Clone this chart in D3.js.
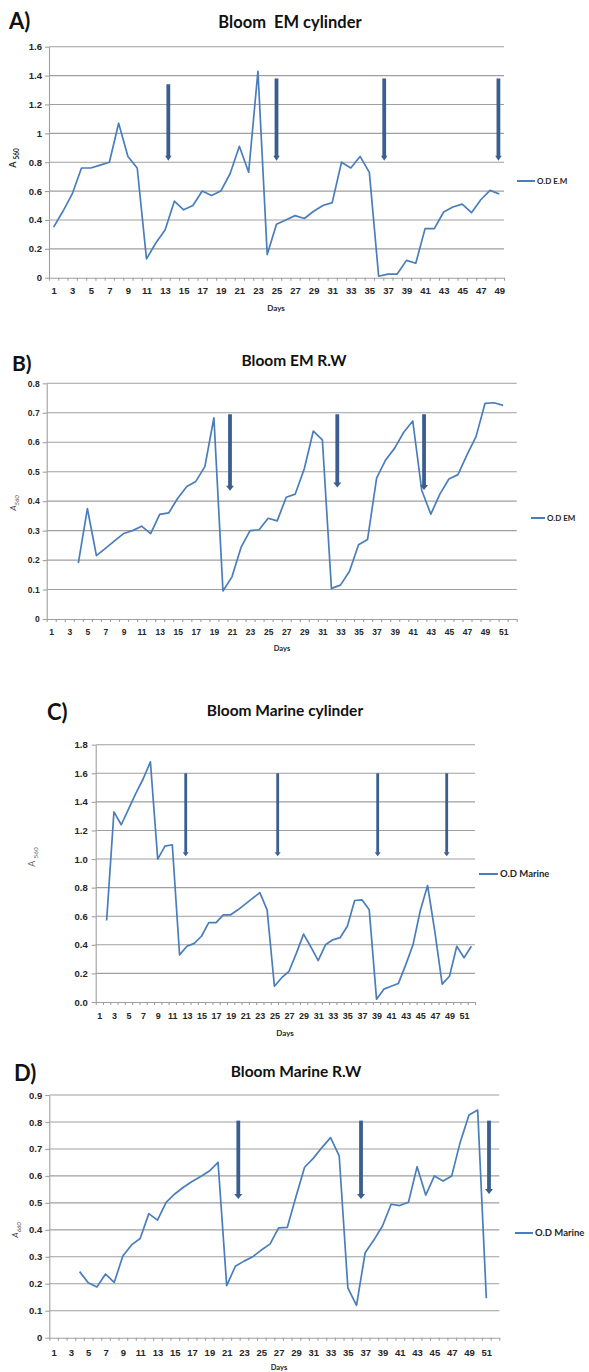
<!DOCTYPE html>
<html>
<head>
<meta charset="utf-8">
<script src="https://cdn.jsdelivr.net/npm/d3@7"></script>
<style>
  body { margin: 0; background: #fff; }
  svg { display: block; font-family: Lato, "Open Sans", sans-serif; }
</style>
</head>
<body>
<div id="chart"></div>
<script>
// ---- values ----
// A) Bloom EM cylinder, days 1..49
const daysA = d3.range(1, 50);
const odA = [0.35, 0.46, 0.58, 0.76, 0.76, 0.78, 0.80, 1.07, 0.84, 0.76,
             0.13, 0.24, 0.33, 0.53, 0.47, 0.50, 0.60, 0.57, 0.60, 0.72,
             0.91, 0.73, 1.43, 0.16, 0.37, 0.40, 0.43, 0.41, 0.46, 0.50,
             0.52, 0.80, 0.76, 0.84, 0.73, 0.01, 0.025, 0.025, 0.12, 0.10,
             0.34, 0.34, 0.455, 0.49, 0.51, 0.45, 0.54, 0.605, 0.58];
const arrowDaysA = [13.35, 25, 36.6, 48.9];
const arrowTopA = [1.34, 1.38, 1.38, 1.38];
const arrowEndA = [0.81, 0.81, 0.81, 0.81];

// B) Bloom EM R.W, days 4..51
const daysB = d3.range(4, 52);
const odB = [0.19, 0.375, 0.215, 0.24, 0.265, 0.29, 0.30, 0.315, 0.29, 0.355,
             0.36, 0.41, 0.45, 0.467, 0.517, 0.683, 0.095, 0.143, 0.243, 0.30,
             0.303, 0.342, 0.333, 0.413, 0.424, 0.51, 0.638, 0.608, 0.104, 0.115,
             0.162, 0.252, 0.27, 0.478, 0.54, 0.58, 0.634, 0.672, 0.436, 0.356,
             0.424, 0.475, 0.49, 0.557, 0.619, 0.732, 0.734, 0.725];
const arrowDaysB = [20.78, 32.65, 42.25];
const arrowTopB = [0.695, 0.695, 0.695];
const arrowEndB = [0.435, 0.446, 0.438];

// C) Bloom Marine cylinder, days 2..52
const daysC = d3.range(2, 53);
const odC = [0.57, 1.33, 1.24, 1.35, 1.46, 1.56, 1.68, 1.00, 1.09, 1.10,
             0.33, 0.39, 0.41, 0.46, 0.555, 0.555, 0.61, 0.61, 0.645, 0.685,
             0.725, 0.765, 0.645, 0.11, 0.17, 0.215, 0.34, 0.475, 0.385, 0.29,
             0.40, 0.435, 0.45, 0.53, 0.71, 0.715, 0.645, 0.02, 0.09, 0.11,
             0.13, 0.26, 0.40, 0.64, 0.815, 0.49, 0.125, 0.18, 0.39, 0.31, 0.39];
const arrowDaysC = [12.84, 25.45, 39.16, 48.62];
const arrowTopC = [1.6, 1.6, 1.6, 1.6];
const arrowEndC = [1.02, 1.02, 1.02, 1.02];

// D) Bloom Marine R.W, days 4..51
const daysD = d3.range(4, 52);
const odD = [0.245, 0.204, 0.188, 0.236, 0.205, 0.303, 0.344, 0.368, 0.46, 0.436,
             0.502, 0.533, 0.558, 0.579, 0.598, 0.618, 0.65, 0.193, 0.265, 0.284,
             0.30, 0.325, 0.347, 0.407, 0.409, 0.523, 0.632, 0.665, 0.705, 0.742,
             0.674, 0.185, 0.12, 0.315, 0.362, 0.414, 0.495, 0.49, 0.502, 0.634,
             0.529, 0.60, 0.581, 0.60, 0.727, 0.826, 0.844, 0.146];
const arrowDaysD = [22.34, 36.52, 51.31];
const arrowTopD = [0.805, 0.805, 0.805];
const arrowEndD = [0.514, 0.514, 0.533];

// tick labels
const yTicksA = [0, 0.2, 0.4, 0.6, 0.8, 1, 1.2, 1.4, 1.6];
const yTicksB = [0, 0.1, 0.2, 0.3, 0.4, 0.5, 0.6, 0.7, 0.8];
const yTicksC = [0, 0.2, 0.4, 0.6, 0.8, 1.0, 1.2, 1.4, 1.6, 1.8];
const yTicksD = [0, 0.1, 0.2, 0.3, 0.4, 0.5, 0.6, 0.7, 0.8, 0.9];
const xLabels49 = d3.range(1, 50, 2);
const xLabels51 = d3.range(1, 52, 2);

const W = 589, H = 1372;
const lineColor = '#4a7ebb';
const arrowColor = '#3a5f8e';
const gridColor = '#9f9f9f';
const textColor = '#262626';

const svg = d3.select('#chart').append('svg')
    .attr('width', W)
    .attr('height', H);
svg.append('rect').attr('width', W).attr('height', H).attr('fill', '#fff');

function drawPanel(p) {
    const x = d3.scaleLinear().domain([0.5, p.nDays + 0.5]).range([p.left, p.right]);
    const y = d3.scaleLinear().domain([0, p.yMax]).range([p.bottom, p.top]);
    const g = svg.append('g');

    // gridlines
    g.selectAll('line.grid')
        .data(p.yTicks.slice(1))
        .join('line')
        .attr('class', 'grid')
        .attr('x1', p.left).attr('x2', p.right)
        .attr('y1', d => y(d)).attr('y2', d => y(d))
        .attr('stroke', gridColor)
        .attr('stroke-width', 1.1);

    // y axis
    const ya = g.append('g')
        .attr('transform', `translate(${p.left},0)`)
        .call(d3.axisLeft(y).tickValues(p.yTicks).tickFormat(p.yFmt)
            .tickSize(4).tickSizeOuter(0).tickPadding(p.yPad));
    ya.selectAll('path, line').attr('stroke', gridColor).attr('stroke-width', 1.1);
    ya.selectAll('text')
        .attr('fill', textColor)
        .style('font-weight', 700)
        .style('font-size', p.tickFont + 'px');

    // x axis: marks at category boundaries
    const xa = g.append('g')
        .attr('transform', `translate(0,${p.bottom})`)
        .call(d3.axisBottom(x).tickValues(d3.range(0.5, p.nDays + 1, 1))
            .tickFormat('').tickSize(3).tickSizeOuter(0));
    xa.selectAll('path, line').attr('stroke', gridColor).attr('stroke-width', 1.1);

    // x labels (odd days)
    const xl = g.append('g')
        .attr('transform', `translate(0,${p.bottom})`)
        .call(d3.axisBottom(x).tickValues(p.xLabels).tickSize(0).tickPadding(p.xPad));
    xl.select('.domain').remove();
    xl.selectAll('text')
        .attr('fill', textColor)
        .style('font-weight', 700)
        .style('font-size', p.xFont + 'px');

    // data line
    const pts = p.days.map((d, i) => ({ day: d, v: p.values[i] }));
    g.append('path')
        .datum(pts)
        .attr('fill', 'none')
        .attr('stroke', lineColor)
        .attr('stroke-width', 1.7)
        .attr('stroke-linejoin', 'round')
        .attr('d', d3.line().x(d => x(d.day)).y(d => y(d.v)));

    // arrows
    p.arrowDays.forEach((d, i) => {
        const cx = x(d);
        const yt = y(p.arrowTop[i]);
        const ye = y(p.arrowEnd[i]);
        g.append('line')
            .attr('x1', cx).attr('x2', cx)
            .attr('y1', yt).attr('y2', ye - p.headH + 0.5)
            .attr('stroke', arrowColor)
            .attr('stroke-width', p.shaftW);
        g.append('path')
            .attr('d', `M${cx - p.headW / 2},${ye - p.headH} L${cx + p.headW / 2},${ye - p.headH} L${cx},${ye} Z`)
            .attr('fill', arrowColor);
    });

    // panel letter and title
    svg.append('text')
        .attr('x', p.letterX).attr('y', p.letterY)
        .style('font-size', p.letterFont + 'px')
        .style('font-weight', 700)
        .attr('fill', '#111')
        .text(p.letter);
    svg.append('text')
        .attr('x', p.titleX).attr('y', p.titleY)
        .attr('text-anchor', 'middle')
        .style('font-size', p.titleFont + 'px')
        .style('font-weight', 700)
        .style('white-space', 'pre')
        .attr('fill', '#111')
        .text(p.title);

    // y axis title (A with subscript)
    const yt = svg.append('text')
        .attr('transform', `translate(${p.yLabX},${p.yLabY}) rotate(-90)`)
        .attr('text-anchor', 'middle')
        .attr('fill', p.yLabColor)
        .style('font-size', p.yLabFont + 'px')
        .style('font-weight', p.yLabWeight)
        .style('font-style', p.yLabStyle);
    yt.append('tspan').text(p.yLabMain);
    yt.append('tspan')
        .attr('dy', p.yLabFont * 0.3)
        .style('font-size', (p.yLabFont * 0.72) + 'px')
        .text(p.yLabSub);

    // Days
    svg.append('text')
        .attr('x', p.daysX).attr('y', p.daysY)
        .attr('text-anchor', 'middle')
        .style('font-size', p.daysFont + 'px')
        .style('font-weight', 700)
        .attr('fill', textColor)
        .text('Days');

    // legend
    svg.append('line')
        .attr('x1', p.legX).attr('x2', p.legX + p.legLen)
        .attr('y1', p.legY).attr('y2', p.legY)
        .attr('stroke', lineColor).attr('stroke-width', 2);
    svg.append('text')
        .attr('x', p.legX + p.legLen + 2).attr('y', p.legY)
        .attr('dy', '0.35em')
        .style('font-size', p.legFont + 'px')
        .style('font-weight', 700)
        .attr('fill', textColor)
        .text(p.legText);
}

const fmtGeneral = d => String(d);
const fmtFixed1 = d3.format('.1f');

drawPanel({
    nDays: 49, left: 49, right: 504, top: 46.7, bottom: 277.7, yMax: 1.6,
    yTicks: yTicksA, yFmt: fmtGeneral, yPad: 3, tickFont: 9.5,
    xLabels: xLabels49, xPad: 10, xFont: 9.5,
    days: daysA, values: odA,
    arrowDays: arrowDaysA, arrowTop: arrowTopA, arrowEnd: arrowEndA,
    shaftW: 3.8, headW: 6.5, headH: 5,
    letter: 'A)', letterX: 9, letterY: 29, letterFont: 22,
    title: 'Bloom  EM cylinder', titleX: 290, titleY: 28, titleFont: 16.5,
    yLabMain: 'A ', yLabSub: '560', yLabX: 16, yLabY: 158, yLabFont: 9,
    yLabColor: textColor, yLabWeight: 700, yLabStyle: 'normal',
    daysX: 276, daysY: 311, daysFont: 8,
    legX: 517, legLen: 18, legY: 181, legText: 'O.D E.M', legFont: 8
});

drawPanel({
    nDays: 52, left: 46.7, right: 516.7, top: 383.3, bottom: 619, yMax: 0.8,
    yTicks: yTicksB, yFmt: fmtGeneral, yPad: 3, tickFont: 8.5,
    xLabels: xLabels51, xPad: 10, xFont: 8.5,
    days: daysB, values: odB,
    arrowDays: arrowDaysB, arrowTop: arrowTopB, arrowEnd: arrowEndB,
    shaftW: 3.8, headW: 8, headH: 5,
    letter: 'B)', letterX: 12, letterY: 371, letterFont: 21,
    title: 'Bloom EM R.W', titleX: 294, titleY: 366, titleFont: 15.5,
    yLabMain: 'A', yLabSub: '560', yLabX: 16, yLabY: 503, yLabFont: 8.5,
    yLabColor: '#444', yLabWeight: 400, yLabStyle: 'italic',
    daysX: 282, daysY: 651, daysFont: 7.5,
    legX: 531, legLen: 14, legY: 518, legText: 'O.D EM', legFont: 8
});

drawPanel({
    nDays: 52, left: 95.7, right: 475, top: 744.7, bottom: 1002, yMax: 1.8,
    yTicks: yTicksC, yFmt: fmtFixed1, yPad: 4, tickFont: 9.5,
    xLabels: xLabels51, xPad: 11, xFont: 9,
    days: daysC, values: odC,
    arrowDays: arrowDaysC, arrowTop: arrowTopC, arrowEnd: arrowEndC,
    shaftW: 2.8, headW: 6, headH: 4,
    letter: 'C)', letterX: 47, letterY: 720, letterFont: 22,
    title: 'Bloom Marine cylinder', titleX: 285, titleY: 716, titleFont: 15.5,
    yLabMain: 'A ', yLabSub: '560', yLabX: 35, yLabY: 857, yLabFont: 9,
    yLabColor: '#666', yLabWeight: 400, yLabStyle: 'normal',
    daysX: 285, daysY: 1036, daysFont: 8,
    legX: 479, legLen: 19, legY: 874, legText: 'O.D Marine', legFont: 9.5
});

drawPanel({
    nDays: 52, left: 49.3, right: 499.3, top: 1095, bottom: 1337.7, yMax: 0.9,
    yTicks: yTicksD, yFmt: fmtGeneral, yPad: 3, tickFont: 9.5,
    xLabels: xLabels51, xPad: 12, xFont: 9.5,
    days: daysD, values: odD,
    arrowDays: arrowDaysD, arrowTop: arrowTopD, arrowEnd: arrowEndD,
    shaftW: 3.8, headW: 8, headH: 5,
    letter: 'D)', letterX: 14, letterY: 1081, letterFont: 22,
    title: 'Bloom Marine R.W', titleX: 296, titleY: 1077, titleFont: 15.5,
    yLabMain: 'A', yLabSub: '660', yLabX: 18, yLabY: 1230, yLabFont: 8.5,
    yLabColor: '#444', yLabWeight: 400, yLabStyle: 'italic',
    daysX: 279, daysY: 1370, daysFont: 7.5,
    legX: 515, legLen: 18, legY: 1233, legText: 'O.D Marine', legFont: 9.5
});
</script>
</body>
</html>
